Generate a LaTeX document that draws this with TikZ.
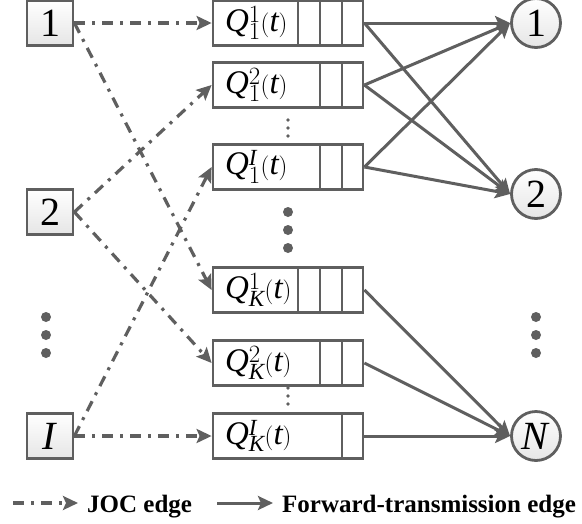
\documentclass[tikz,border=0pt]{standalone}
\usepackage{fontspec}
\setmainfont{Liberation Serif}
\usetikzlibrary{arrows.meta}
\definecolor{edgegray}{RGB}{95,95,95}

\begin{document}
\begin{tikzpicture}[x=1pt,y=-1pt,
    src/.style={draw=edgegray, line width=2.8pt, top color=white, bottom color=black!10,
      minimum width=46pt, minimum height=45pt, inner sep=0pt, font=\fontsize{40}{40}\selectfont},
    dst/.style={circle, draw=edgegray, line width=2.8pt, top color=white, bottom color=black!10,
      minimum size=49pt, inner sep=0pt, font=\fontsize{40}{40}\selectfont},
    queue/.style={draw=edgegray, line width=2.8pt, fill=white, minimum width=150pt, minimum height=45pt,
      inner xsep=12pt, text width=126pt, align=left, font=\fontsize{33}{33}\selectfont},
    cell/.style={draw=edgegray, line width=2pt},
    joc/.style={draw=edgegray, line width=3.2pt, dash pattern=on 11pt off 7pt on 3pt off 7pt,
      -{Stealth[length=15pt,width=14pt,inset=3pt]}},
    fwd/.style={draw=edgegray, line width=3pt, -{Stealth[length=15pt,width=14pt,inset=3pt]}},
    legend/.style={anchor=base west, inner sep=0pt, font=\fontsize{25}{25}\selectfont\bfseries},
  ]
        \useasboundingbox (0,0) rectangle (582,523);
        % users
        \node[src] (s1) at (50,23) {1};
        \node[src] (s2) at (50,212) {2};
        \node[src] (si) at (50,436) {\textit{I}};
        % queues
        \node[queue] (q11) at (288,23) {$\mathit{Q}_{1}^{1}(\mathit{t})$};
        \node[queue] (q12) at (288,85) {$\mathit{Q}_{1}^{2}(\mathit{t})$};
        \node[queue] (q1i) at (288,167) {$\mathit{Q}_{1}^{\mathit{I}}(\mathit{t})$};
        \node[queue] (qk1) at (288,290) {$\mathit{Q}_{\mathit{K}}^{1}(\mathit{t})$};
        \node[queue] (qk2) at (288,363) {$\mathit{Q}_{\mathit{K}}^{2}(\mathit{t})$};
        \node[queue] (qki) at (288,436) {$\mathit{Q}_{\mathit{K}}^{\mathit{I}}(\mathit{t})$};
        \foreach \q/\n in {q11/3,q12/2,q1i/2,qk1/3,qk2/2,qki/1} {
          \foreach \k in {1,...,\n} {
            \draw[cell] ([xshift=-\k*22.3pt]\q.north east) -- ([xshift=-\k*22.3pt]\q.south east);
          }
        }
        % servers
        \node[dst] (r1) at (536,23) {1};
        \node[dst] (r2) at (536,194) {2};
        \node[dst] (rn) at (536,436) {\textit{N}};
        % dots
        \foreach \y in {317,335,353} {
          \fill[edgegray] (46,\y) circle (5pt);
          \fill[edgegray] (536,\y) circle (5pt);
        }
        \foreach \y in {212,230,248} {
          \fill[edgegray] (288,\y) circle (5pt);
        }
        \foreach \y in {120,128,136,388,396,404} {
          \fill[edgegray] (288,\y) circle (1.8pt);
        }
        % JOC edges
        \draw[joc] (s1.east) -- (q11.west);
        \draw[joc] (s1.east) -- (qk1.west);
        \draw[joc] (s2.east) -- (q12.west);
        \draw[joc] (s2.east) -- (qk2.west);
        \draw[joc] (si.east) -- (q1i.west);
        \draw[joc] (si.east) -- (qki.west);
        % forward-transmission edges
        \foreach \q in {q11,q12,q1i} {
          \draw[fwd] (\q.east) -- (r1.west);
          \draw[fwd] (\q.east) -- (r2.west);
        }
        \foreach \q in {qk1,qk2,qki} {
          \draw[fwd] (\q.east) -- (rn.west);
        }
        % legend
        \coordinate (ja) at (13,503);
        \coordinate (jb) at (78,503);
        \coordinate (fa) at (217,503);
        \coordinate (fb) at (273,503);
        \draw[joc] (ja) -- (jb);
        \draw[fwd] (fa) -- (fb);
        \node[legend] (jl) at (87,512) {JOC edge};
        \node[legend] (fl) at (282,512) {Forward-transmission edge};
\end{tikzpicture}
\end{document}
